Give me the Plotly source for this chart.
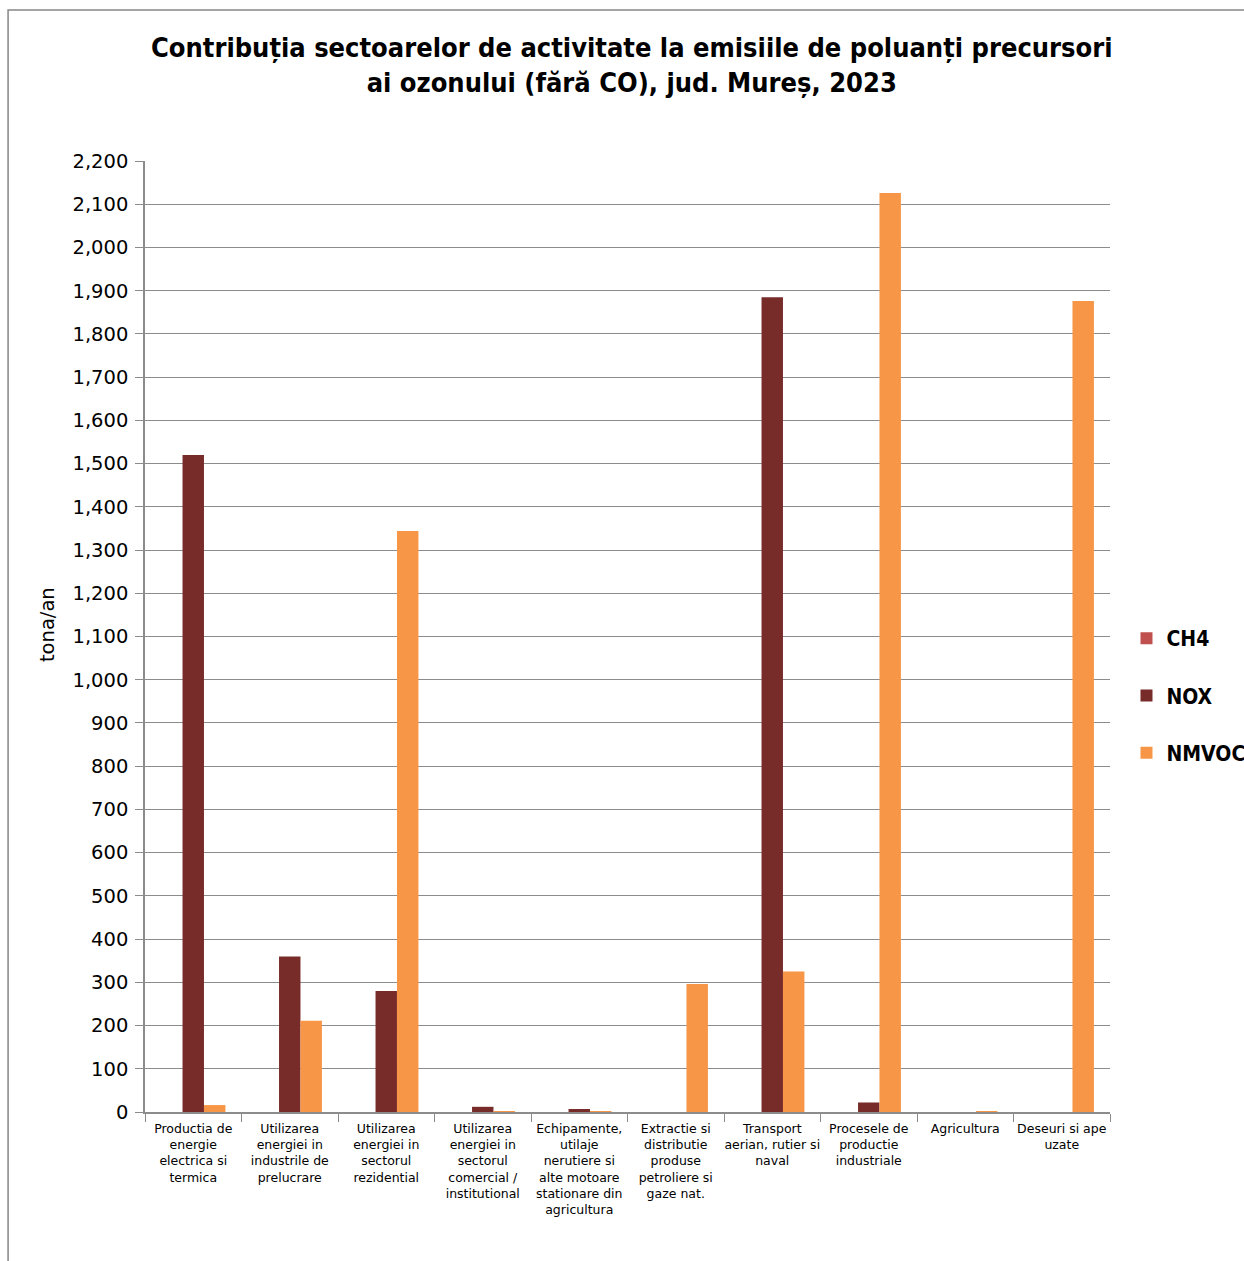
import plotly.graph_objects as go

# Sectors of activity (category labels, line-broken as on the axis)
sectors = [
    "Productia de<br>energie<br>electrica si<br>termica",
    "Utilizarea<br>energiei in<br>industrile de<br>prelucrare",
    "Utilizarea<br>energiei in<br>sectorul<br>rezidential",
    "Utilizarea<br>energiei in<br>sectorul<br>comercial /<br>institutional",
    "Echipamente,<br>utilaje<br>nerutiere si<br>alte motoare<br>stationare din<br>agricultura",
    "Extractie si<br>distributie<br>produse<br>petroliere si<br>gaze nat.",
    "Transport<br>aerian, rutier si<br>naval",
    "Procesele de<br>productie<br>industriale",
    "Agricultura",
    "Deseuri si ape<br>uzate",
]

# Emissions, tona/an
ch4 = [0, 0, 0, 0, 0, 0, 0, 0, 0, 0]
nox = [1520, 360, 280, 12, 7, 0, 1885, 22, 0, 0]
nmvoc = [16, 211, 1344, 2, 0.5, 296, 325, 2126, 1.5, 1876]

y_ticks = list(range(0, 2201, 100))

colors = {"CH4": "#C0504D", "NOX": "#772C2A", "NMVOC": "#F79646"}

fig = go.Figure()
for name, vals in [("CH4", ch4), ("NOX", nox), ("NMVOC", nmvoc)]:
    fig.add_trace(go.Bar(
        x=sectors, y=vals, name=name,
        marker=dict(color=colors[name], line=dict(width=0)),
        legendgroup=name,
    ))

W, H = 1244, 1261
L, R, T, B = 145, 1110.5, 161, 1112
pw, ph = R - L, B - T


def px(x):
    return (x - L) / pw


def py(y):
    return (B - y) / ph


sans = "DejaVu Sans, sans-serif"
cond = "DejaVu Sans Condensed, DejaVu Sans, sans-serif"

fig.update_layout(
    width=W, height=H,
    margin=dict(l=L, r=W - R, t=T, b=H - B, pad=0, autoexpand=False),
    paper_bgcolor="white", plot_bgcolor="white",
    font=dict(family=sans, color="black"),
    barmode="group", bargap=1.5 / 4.5, bargroupgap=0,
    title=dict(
        text="Contribuția sectoarelor de activitate la emisiile de poluanți precursori<br>ai ozonului (fără CO), jud. Mureș, 2023",
        font=dict(size=27, family=cond, weight="bold", color="black"),
        x=px(632), xref="paper", xanchor="center",
        y=1 - 57 / H, yref="container", yanchor="top",
    ),
    legend=dict(
        x=px(1127), xanchor="left", y=py(618), yanchor="top",
        font=dict(size=21, weight="bold", family=cond),
        tracegroupgap=27, traceorder="grouped",
        itemwidth=30, bgcolor="rgba(0,0,0,0)",
    ),
    xaxis=dict(
        type="category",
        showline=True, linecolor="#8c8c8c", linewidth=1.5,
        ticks="outside", tickson="boundaries", ticklen=8, tickcolor="#8c8c8c",
        tickangle=0, ticklabelstandoff=4,
        tickfont=dict(size=12.5, family=sans),
        showgrid=False,
    ),
    yaxis=dict(
        range=[0, 2200], tickvals=y_ticks,
        tickformat=",d",
        showline=True, linecolor="#8c8c8c", linewidth=1.5,
        ticks="outside", ticklen=8, tickcolor="#8c8c8c",
        ticklabelstandoff=3,
        tickfont=dict(size=19.5, family=sans),
        showgrid=True, gridcolor="#8c8c8c", gridwidth=1.2,
        zeroline=False,
    ),
    annotations=[dict(
        text="tona/an", textangle=-90, showarrow=False,
        xref="paper", yref="paper", x=px(47), y=py(625),
        xanchor="center", yanchor="middle",
        font=dict(size=19.5, family=sans),
    )],
    shapes=[dict(
        type="rect", xref="paper", yref="paper",
        x0=px(8), x1=px(1260), y0=py(1275), y1=py(10),
        line=dict(color="#868686", width=1.5), fillcolor="rgba(0,0,0,0)",
        layer="below",
    )],
)

fig.write_html("out.html")
